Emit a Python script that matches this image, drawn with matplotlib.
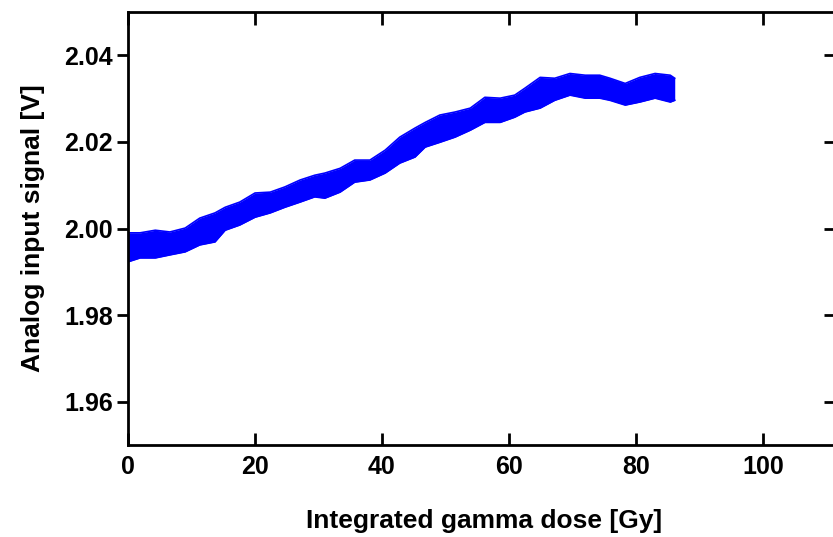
import matplotlib
matplotlib.use("Agg")
import matplotlib.pyplot as plt

plt.rcParams['font.family'] = ['Liberation Sans', 'DejaVu Sans']
plt.rcParams['font.weight'] = 'bold'

# Integrated gamma dose [Gy]
dose = [0.0, 1.9, 4.3, 6.6, 9.0, 11.3, 13.7, 15.3, 17.6, 20.0, 22.4, 24.7, 27.1, 29.4,
        31.0, 33.4, 35.7, 38.1, 40.5, 42.8, 45.2, 46.8, 49.1, 51.5, 53.9, 56.2, 58.6,
        60.9, 62.5, 64.9, 67.2, 69.6, 72.0, 74.3, 75.9, 78.3, 80.6, 83.0, 85.4, 86.1]
# Upper and lower envelope of the noisy analog signal [V]
signal_upper = [1.9990, 1.9990, 1.9996, 1.9992, 2.0001, 2.0024, 2.0036, 2.0049, 2.0061,
                2.0082, 2.0084, 2.0096, 2.0112, 2.0123, 2.0128, 2.0139, 2.0158, 2.0158,
                2.0181, 2.0211, 2.0232, 2.0245, 2.0262, 2.0269, 2.0278, 2.0303, 2.0301,
                2.0308, 2.0324, 2.0349, 2.0347, 2.0358, 2.0354, 2.0354, 2.0347, 2.0335,
                2.0349, 2.0358, 2.0354, 2.0347]
signal_lower = [1.9923, 1.9932, 1.9932, 1.9939, 1.9946, 1.9962, 1.9969, 1.9996, 2.0008,
                2.0026, 2.0036, 2.0049, 2.0061, 2.0073, 2.0070, 2.0084, 2.0107, 2.0112,
                2.0128, 2.0151, 2.0165, 2.0188, 2.0199, 2.0211, 2.0227, 2.0245, 2.0245,
                2.0257, 2.0269, 2.0278, 2.0296, 2.0308, 2.0301, 2.0301, 2.0296, 2.0285,
                2.0292, 2.0301, 2.0292, 2.0296]

x_ticks = [0, 20, 40, 60, 80, 100]
y_ticks = [1.96, 1.98, 2.00, 2.02, 2.04]
y_ticklabels = ['1.96', '1.98', '2.00', '2.02', '2.04']

W, H = 833, 537
fig = plt.figure(figsize=(W / 100, H / 100), dpi=100)
left_px, right_px, top_px, bottom_px = 128, 841, 12, 445
ax = fig.add_axes([left_px / W, 1 - bottom_px / H,
                   (right_px - left_px) / W, (bottom_px - top_px) / H])

blue = '#0000ff'
ax.fill_between(dose, signal_lower, signal_upper, color=blue, linewidth=0)
ax.plot(dose, signal_upper, color=blue, lw=1.2)
ax.plot(dose, signal_lower, color=blue, lw=1.2)

xmax = (right_px - left_px) / 6.35
ax.set_xlim(0, xmax)
ax.set_ylim(1.95, 2.05)
ax.set_xticks(x_ticks)
ax.set_yticks(y_ticks)
ax.set_yticklabels(y_ticklabels)

for s in ax.spines.values():
    s.set_linewidth(2)

ax.tick_params(axis='x', direction='in', length=9, width=2, top=True, labelsize=18, pad=7)
ax.tick_params(axis='y', direction='out', length=8, width=2, labelsize=18, pad=3, right=False)

# inward ticks on the right side
axr = ax.twinx()
axr.set_ylim(ax.get_ylim())
axr.set_yticks(y_ticks)
axr.tick_params(axis='y', direction='in', length=12, width=2, labelright=False)
for s in axr.spines.values():
    s.set_visible(False)

ax.set_xlabel('Integrated gamma dose [Gy]', fontsize=19, fontweight='bold', labelpad=22)
ax.set_ylabel('Analog input signal [V]', fontsize=19, fontweight='bold', labelpad=14)

fig.savefig('out.png', dpi=100)
